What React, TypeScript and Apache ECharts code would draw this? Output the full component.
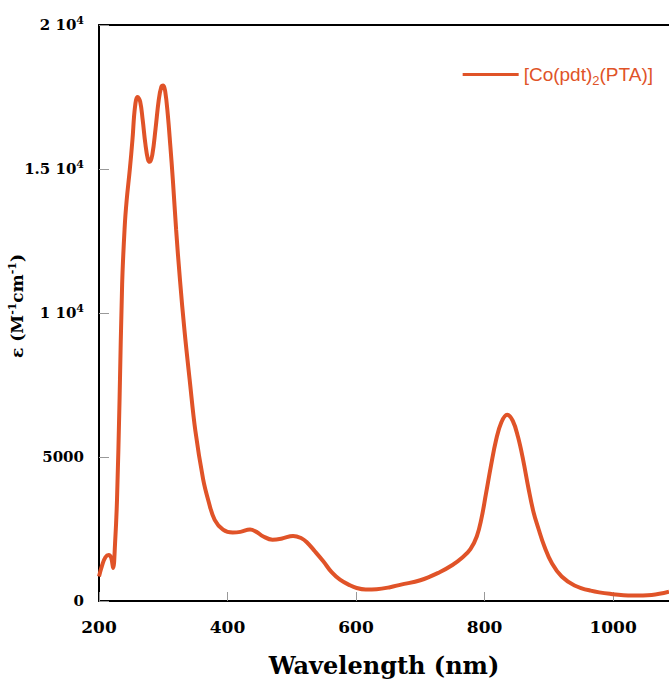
import React, { useEffect, useRef } from "react";
import * as echarts from "echarts";

const wavelengths = [
  200, 205, 210, 215, 219, 222, 225, 228, 232, 236, 240, 243, 248, 252, 256, 260, 264, 268, 272, 276,
  279, 283, 288, 293, 297, 300, 303, 307, 311, 315, 320, 326, 333, 341, 350, 362, 370, 380, 393, 408,
  420, 435, 445, 455, 470, 485, 502, 515, 523, 535, 549, 562, 575, 590, 601, 615, 632, 653, 670, 700,
  730, 750, 765, 778, 788, 795, 802, 810, 818, 826, 835, 844, 852, 860, 868, 876, 884, 893, 905, 920,
  940, 965, 995, 1030, 1060, 1087,
];
const epsilon = [
  850, 1250, 1520, 1600, 1500, 1150, 2000, 3500, 7000, 11000, 13000, 13900, 15000, 16000, 17150, 17500, 17350, 16700, 15900, 15350,
  15250, 15500, 16400, 17400, 17850, 17900, 17700, 16900, 15800, 14600, 12900, 11150, 9400, 7700, 5900, 4230, 3500, 2820, 2480, 2380,
  2400, 2480, 2400, 2250, 2130, 2170, 2260, 2180, 2050, 1750, 1380, 1000, 740, 550, 450, 400, 410, 480, 570, 720,
  1000, 1250, 1500, 1800, 2250, 2850, 3700, 4700, 5600, 6200, 6470, 6250, 5700, 4900, 3950, 3100, 2500, 1900, 1300, 850,
  540, 360, 250, 190, 210, 320,
];
const xTicks = [200, 400, 600, 800, 1000];
const yTickLabels: Record<number, string> = {
  0: "0",
  5000: "5000",
  10000: "{a|1 10}{s|4}",
  15000: "{a|1.5 10}{s|4}",
  20000: "{a|2 10}{s|4}",
};
const seriesName = "[Co(pdt)2(PTA)]";

const LINE = "#e05328";
const SERIF = "'DejaVu Serif', serif";
const SANS = "'Liberation Sans', Arial, sans-serif";

export default function App() {
  const ref = useRef<HTMLDivElement>(null);
  useEffect(() => {
    document.body.style.margin = "0";
    const chart = echarts.init(ref.current!, null, { renderer: "svg" });
    const data = wavelengths.map((w, i) => [w, epsilon[i]]);
    chart.setOption({
      animation: false,
      backgroundColor: "#fff",
      grid: { left: 99, right: 0, top: 25, bottom: 80, outerBoundsMode: "none", containLabel: false },
      legend: {
        right: 11,
        top: 60,
        icon: "rect",
        itemWidth: 56,
        itemHeight: 3,
        itemGap: 6,
        data: [seriesName],
        formatter: () => "[Co(pdt){s|2}(PTA)]",
        textStyle: {
          color: LINE,
          fontFamily: SANS,
          fontSize: 19,
          rich: {
            s: { fontSize: 13, color: LINE, fontFamily: SANS, padding: [11, 0, 0, 0] },
          },
        },
      },
      xAxis: [
        {
          type: "value",
          min: 200,
          max: 1087,
          interval: 200,
          position: "bottom",
          name: "Wavelength (nm)",
          nameLocation: "middle",
          nameGap: 52,
          nameMoveOverlap: false,
          nameTextStyle: { fontFamily: SERIF, fontWeight: "bold", fontSize: 24, color: "#000" },
          axisLine: { show: true, lineStyle: { color: "#000", width: 2 } },
          axisTick: { show: true, inside: true, length: 9, lineStyle: { color: "#999", width: 1 } },
          splitLine: { show: false },
          axisLabel: {
            margin: 17,
            fontFamily: SERIF,
            fontWeight: "bold",
            fontSize: 17,
            color: "#000",
            showMaxLabel: false,
            formatter: (v: number) => (xTicks.includes(v) ? String(v) : ""),
          },
        },
        {
          type: "value",
          min: 200,
          max: 1087,
          position: "top",
          axisLine: { show: true, lineStyle: { color: "#000", width: 2 } },
          axisTick: { show: false },
          axisLabel: { show: false },
          splitLine: { show: false },
        },
      ],
      yAxis: {
        type: "value",
        min: 0,
        max: 20000,
        interval: 5000,
        name: "{e|ε (M}{s|-1}{e|cm}{s|-1}{e|)}",
        nameLocation: "middle",
        nameGap: 72,
        nameMoveOverlap: false,
        nameTextStyle: {
          padding: [0, 0, 0, 14],
          rich: {
            e: { fontFamily: SERIF, fontWeight: "bold", fontSize: 17, color: "#000" },
            s: { fontFamily: SERIF, fontWeight: "bold", fontSize: 11, color: "#000", padding: [0, 0, 9, 0] },
          },
        },
        axisLine: { show: true, lineStyle: { color: "#000", width: 2 } },
        axisTick: { show: true, inside: true, length: 10, lineStyle: { color: "#999", width: 1 } },
        splitLine: { show: false },
        axisLabel: {
          margin: 15,
          formatter: (v: number) => yTickLabels[v] ?? "",
          fontFamily: SERIF,
          fontWeight: "bold",
          fontSize: 15,
          color: "#000",
          rich: {
            a: { fontFamily: SERIF, fontWeight: "bold", fontSize: 15, color: "#000" },
            s: { fontFamily: SERIF, fontWeight: "bold", fontSize: 11, color: "#000", padding: [0, 0, 10, 0] },
          },
        },
      },
      series: [
        {
          name: seriesName,
          type: "line",
          data,
          smooth: 0.4,
          showSymbol: false,
          symbol: "none",
          clip: true,
          lineStyle: { color: LINE, width: 4 },
          itemStyle: { color: LINE },
        },
      ],
    });
    return () => chart.dispose();
  }, []);
  return <div ref={ref} style={{ width: 669, height: 681 }} />;
}
